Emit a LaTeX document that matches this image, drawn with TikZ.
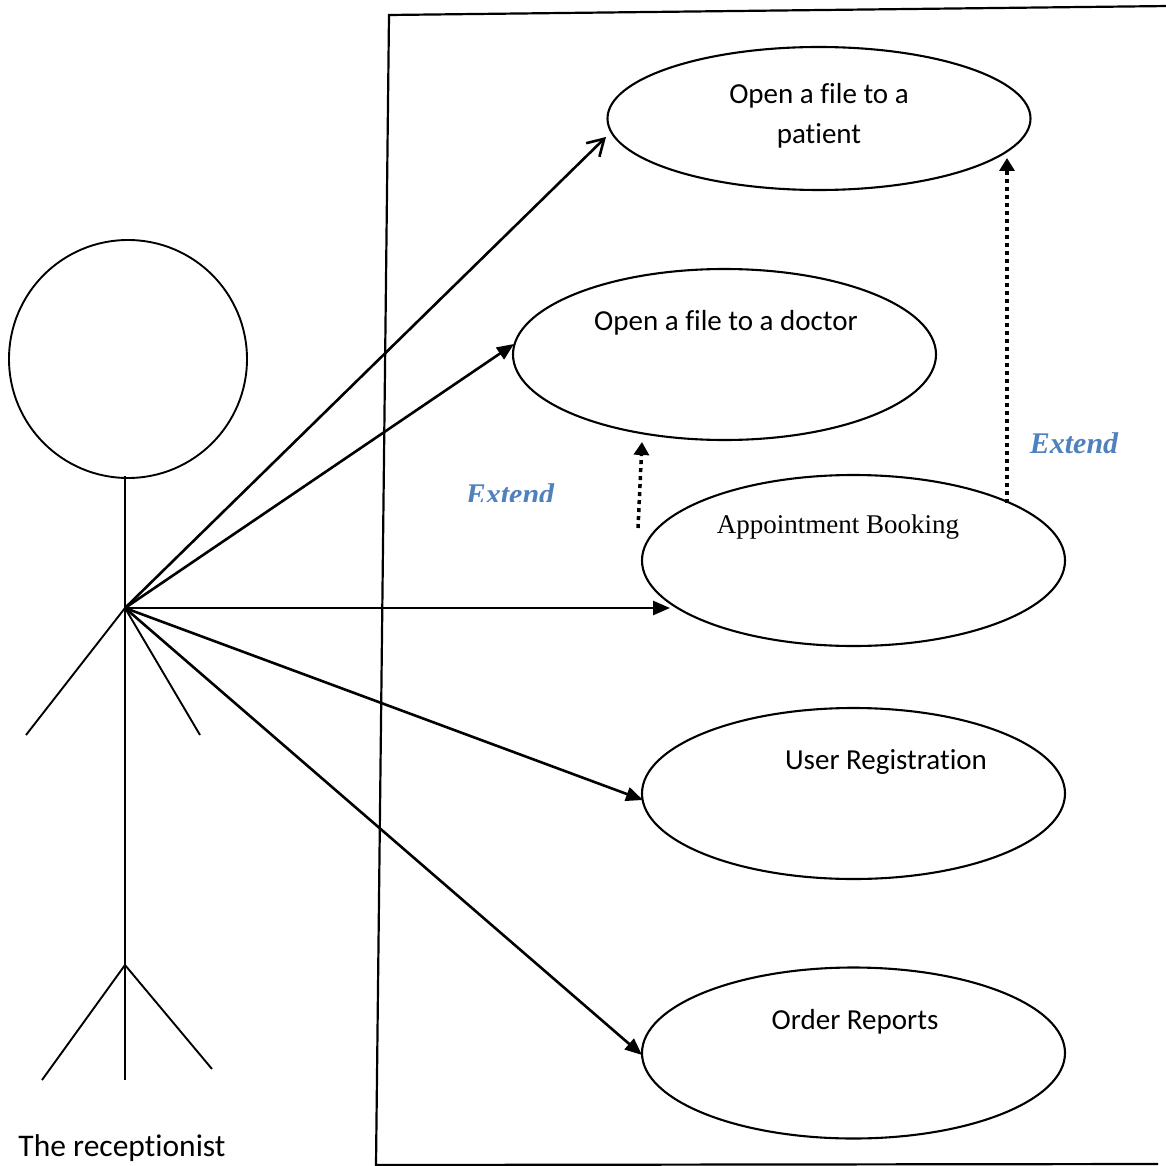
\documentclass[tikz,border=0pt]{standalone}
\usepackage{fontspec}
\setmainfont{Carlito}[Ligatures={NoCommon}]
\newfontfamily\timesfont{Liberation Serif}
\usetikzlibrary{arrows.meta,shapes.geometric}
\definecolor{extendblue}{RGB}{79,129,189}
% break up the f-i and t-i ligatures of the sans font
\newcommand{\nolig}{\kern0pt }
\begin{document}
\begin{tikzpicture}[x=1pt,y=-1pt,
  usecase/.style={draw,ellipse,line width=2.1pt,minimum width=423pt,minimum height=171pt,inner sep=0pt},
  lbl/.style={anchor=base,inner sep=0pt,font=\fontsize{29}{34}\selectfont},
  extlbl/.style={anchor=base,inner sep=0pt,text=extendblue,font=\fontsize{30}{36}\selectfont\timesfont\bfseries\itshape},
  stick/.style={line width=1.9pt},
  assoc/.style={line width=2.6pt,-{Triangle[length=17pt,width=14pt]}},
  openassoc/.style={line width=2.6pt,-{Straight Barb[length=16pt,width=19pt]}},
  extarrow/.style={line width=3.5pt,dash pattern=on 4pt off 4pt,-{Triangle[length=13pt,width=15pt]}},
  frame/.style={line width=2.2pt}
]
\clip (0,0) rectangle (1166,1166);
\fill[white] (0,0) rectangle (1166,1166);

% system boundary
\draw[frame] (1170,6) -- (389,15) -- (376,1165) -- (1158,1164);

% actor
\node[draw,circle,stick,minimum size=238pt,inner sep=0pt] (head) at (128,359) {};
\coordinate (neck) at (125,476);
\coordinate (hand) at (125,608);
\coordinate (hip) at (125,965);
\coordinate (foot) at (125,1080);
\coordinate (larm) at (26,735);
\coordinate (rarm) at (200,735);
\coordinate (lleg) at (42,1080);
\coordinate (rleg) at (212,1069);
\draw[stick] (neck) -- (foot);
\draw[stick] (larm) -- (hand) -- (rarm);
\draw[stick] (lleg) -- (hip) -- (rleg);
\node[lbl,font=\fontsize{31.5}{36}\selectfont] (actor) at (122,1156) {The recept\nolig ionist};

% use cases
\node[usecase,minimum height=143pt] (patient) at (819,118.5) {};
\node[usecase] (doctor) at (724.5,354.5) {};
\node[usecase] (booking) at (853.5,560.5) {};
\node[usecase] (register) at (853.5,793.5) {};
\node[usecase] (reports) at (853.5,1053) {};

\node[lbl] (t1a) at (819,104) {Open a f\nolig ile to a};
\node[lbl] (t1b) at (819,144) {pat\nolig ient};
\node[lbl] (t2) at (726,330) {Open a f\nolig ile to a doctor};
\node[lbl,font=\fontsize{27}{32}\selectfont\timesfont] (t3) at (838,533) {Appointment Booking};
\node[lbl] (t4) at (886,769) {User Registrat\nolig ion};
\node[lbl] (t5) at (855,1029) {Order Reports};

% association ends
\coordinate (e1) at (606,137);
\coordinate (e2) at (514,344);
\coordinate (e3) at (670,608);
\coordinate (e4) at (643,800);
\coordinate (e5) at (642,1055);

\draw[openassoc] (hand) -- (e1);
\draw[assoc] (hand) -- (e2);
\draw[assoc] (hand) -- (e3);
\draw[assoc] (hand) -- (e4);
\draw[assoc] (hand) -- (e5);

% extend relations
\coordinate (x1s) at (638,528);
\coordinate (x1e) at (642,442);
\coordinate (x2s) at (1007,503);
\coordinate (x2e) at (1007,158);
\draw[extarrow] (x1s) -- (x1e);
\draw[extarrow] (x2s) -- (x2e);

\node[extlbl] (ext2) at (1074,453) {Extend};
\begin{scope}
  \clip (400,470) rectangle (600,501);
  \node[extlbl] (ext1) at (510,504) {Extend};
\end{scope}
\end{tikzpicture}
\end{document}
